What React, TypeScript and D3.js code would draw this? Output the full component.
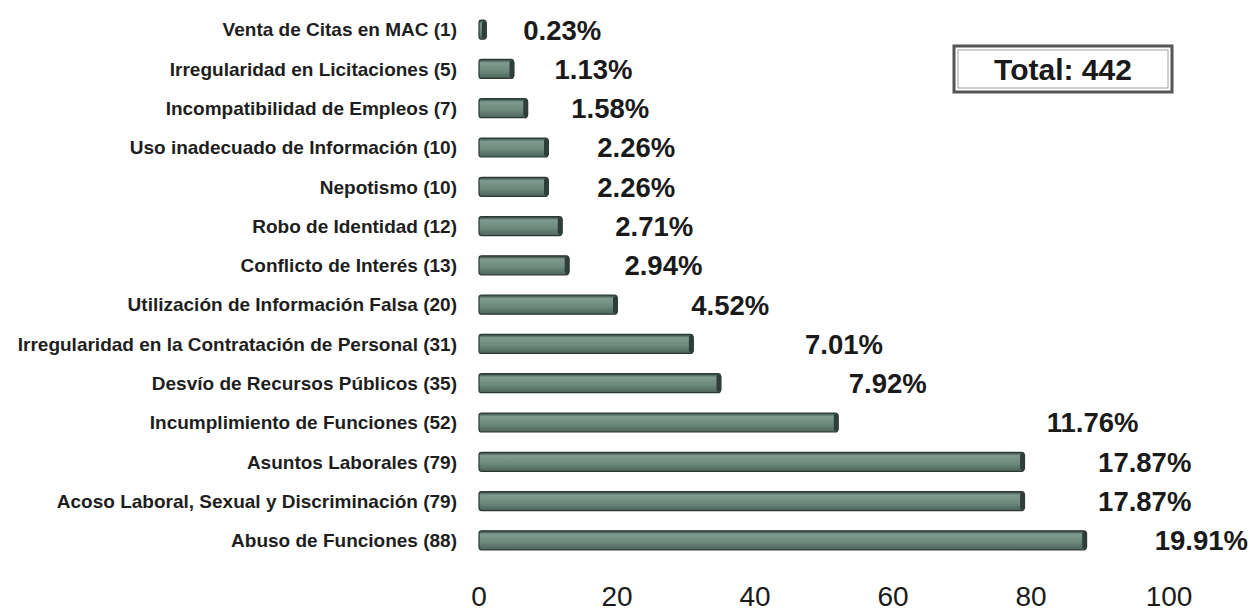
import * as d3 from "d3";
import { useEffect, useRef } from "react";

const categories = [
  "Venta de Citas en MAC (1)",
  "Irregularidad en Licitaciones (5)",
  "Incompatibilidad de Empleos (7)",
  "Uso inadecuado de Información (10)",
  "Nepotismo (10)",
  "Robo de Identidad (12)",
  "Conflicto de Interés (13)",
  "Utilización de Información Falsa (20)",
  "Irregularidad en la Contratación de Personal (31)",
  "Desvío de Recursos Públicos (35)",
  "Incumplimiento de Funciones (52)",
  "Asuntos Laborales (79)",
  "Acoso Laboral, Sexual y Discriminación (79)",
  "Abuso de Funciones (88)",
];
const counts = [1, 5, 7, 10, 10, 12, 13, 20, 31, 35, 52, 79, 79, 88];
const percents = ["0.23%", "1.13%", "1.58%", "2.26%", "2.26%", "2.71%", "2.94%", "4.52%", "7.01%", "7.92%", "11.76%", "17.87%", "17.87%", "19.91%"];
const ticks = [0, 20, 40, 60, 80, 100];
const totalLabel = "Total: 442";

export default function App() {
  const width = 1252;
  const height = 614;
  const svgRef = useRef<SVGSVGElement>(null);

  useEffect(() => {
    const svg = d3.select(svgRef.current);
    svg.selectAll("*").remove();
    const font = "'Liberation Sans', Arial, sans-serif";

    const x = d3.scaleLinear([0, 100], [479, 1169]);
    const y = d3.scaleBand(categories, [10, 560]);
    // gap between bar end and its percentage grows with the value
    const gap = d3.scalePow([0, 52], [37, 209]).exponent(1.6);

    const defs = svg.append("defs");
    const grad = defs.append("linearGradient")
      .attr("id", "barGrad").attr("x1", 0).attr("y1", 0).attr("x2", 0).attr("y2", 1);
    grad.append("stop").attr("offset", "0%").attr("stop-color", "#2f403a");
    grad.append("stop").attr("offset", "18%").attr("stop-color", "#7f9b90");
    grad.append("stop").attr("offset", "60%").attr("stop-color", "#6c897d");
    grad.append("stop").attr("offset", "100%").attr("stop-color", "#4c6359");

    const barH = 19;
    const rows = svg.append("g");
    categories.forEach((c, i) => {
      const cy = y(c)! + y.bandwidth() / 2;
      const x0 = x(0);
      const x1 = x(counts[i]);
      rows.append("rect")
        .attr("x", x0).attr("y", cy - barH / 2)
        .attr("width", x1 - x0).attr("height", barH)
        .attr("rx", 2.5)
        .attr("fill", "url(#barGrad)")
        .attr("stroke", "#2b3833").attr("stroke-width", 1.2);
      rows.append("rect")
        .attr("x", x1 - 4).attr("y", cy - barH / 2 + 1)
        .attr("width", 5).attr("height", barH - 2)
        .attr("rx", 2)
        .attr("fill", "#2f3e38");

      rows.append("text")
        .attr("x", 457).attr("y", cy)
        .attr("dy", "0.36em")
        .attr("text-anchor", "end")
        .attr("font-family", font).attr("font-weight", "bold")
        .attr("font-size", 19).attr("fill", "#1e1e1e")
        .text(c);

      const t = rows.append("text")
        .attr("y", cy)
        .attr("dy", "0.36em")
        .attr("font-family", font).attr("font-weight", "bold")
        .attr("font-size", 27.5).attr("fill", "#1a1a1a")
        .text(percents[i]);
      const w = (t.node() as SVGTextElement).getComputedTextLength();
      const px = counts[i] > 60
        ? Math.min(x1 + 74, width - 4 - w)
        : x1 + gap(counts[i]);
      t.attr("x", px);
    });

    svg.append("g")
      .selectAll("text")
      .data(ticks)
      .join("text")
      .attr("x", d => x(d)).attr("y", 606)
      .attr("text-anchor", "middle")
      .attr("font-family", font).attr("font-size", 28).attr("fill", "#1a1a1a")
      .text(d => d);

    const box = svg.append("g");
    box.append("rect")
      .attr("x", 954).attr("y", 46).attr("width", 218).attr("height", 46)
      .attr("fill", "#fff").attr("stroke", "#555").attr("stroke-width", 3);
    box.append("rect")
      .attr("x", 958).attr("y", 50).attr("width", 210).attr("height", 38)
      .attr("fill", "none").attr("stroke", "#a0a0a0").attr("stroke-width", 1);
    box.append("text")
      .attr("x", 1063).attr("y", 69).attr("dy", "0.36em")
      .attr("text-anchor", "middle")
      .attr("font-family", font).attr("font-weight", "bold")
      .attr("font-size", 30).attr("fill", "#1a1a1a")
      .text(totalLabel);
  }, []);

  return (
    <div style={{ position: "absolute", left: 0, top: 0 }}>
      <svg ref={svgRef} width={width} height={height} xmlns="http://www.w3.org/2000/svg" />
    </div>
  );
}
